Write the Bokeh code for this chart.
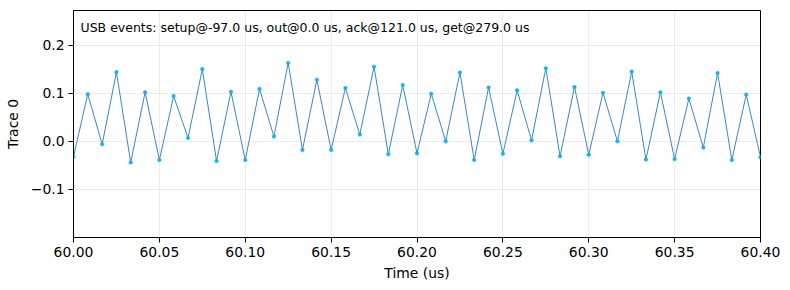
from bokeh.plotting import figure
from bokeh.models import Range1d, FixedTicker, CustomJSTickFormatter, Label, ColumnDataSource
from bokeh.embed import file_html
from bokeh.resources import INLINE

# ---- data ----
time_us = [60.0, 60.0083, 60.0167, 60.025, 60.0333, 60.0417, 60.05, 60.0583,
           60.0667, 60.075, 60.0833, 60.0917, 60.1, 60.1083, 60.1167, 60.125,
           60.1333, 60.1417, 60.15, 60.1583, 60.1667, 60.175, 60.1833, 60.1917,
           60.2, 60.2083, 60.2167, 60.225, 60.2333, 60.2417, 60.25, 60.2583,
           60.2667, 60.275, 60.2833, 60.2917, 60.3, 60.3083, 60.3167, 60.325,
           60.3333, 60.3417, 60.35, 60.3583, 60.3667, 60.375, 60.3833, 60.3917,
           60.4]
trace0 = [-0.032, 0.098, -0.006, 0.144, -0.044, 0.102, -0.039, 0.094,
          0.007, 0.150, -0.041, 0.103, -0.039, 0.109, 0.010, 0.163,
          -0.018, 0.128, -0.018, 0.111, 0.014, 0.155, -0.027, 0.117,
          -0.025, 0.099, 0.000, 0.143, -0.039, 0.112, -0.026, 0.106,
          0.002, 0.152, -0.031, 0.113, -0.028, 0.101, 0.000, 0.145,
          -0.038, 0.102, -0.037, 0.089, -0.013, 0.142, -0.039, 0.097,
          -0.033]
x_ticks = [60.00, 60.05, 60.10, 60.15, 60.20, 60.25, 60.30, 60.35, 60.40]
y_ticks = [-0.1, 0.0, 0.1, 0.2]
x_limits = (60.0, 60.4)
y_limits = (-0.2, 0.272)
event_names = ["setup", "out", "ack", "get"]
event_times_us = [-97.0, 0.0, 121.0, 279.0]
x_label = "Time (us)"
y_label = "Trace 0"

FONT = "DejaVu Sans"

p = figure(width=790, height=290, output_backend="svg", toolbar_location=None,
           x_range=Range1d(*x_limits), y_range=Range1d(*y_limits),
           min_border_left=73, min_border_right=30, min_border_top=10,
           min_border_bottom=53)

src = ColumnDataSource(dict(t=time_us, v=trace0))
p.line("t", "v", source=src, line_color="#2279bf", line_width=0.9)
p.scatter("t", "v", source=src, size=3.6, fill_color="#14b0f0", line_color="#14b0f0",
          line_width=0.5)

p.outline_line_color = "black"
p.outline_line_width = 1
p.outline_line_alpha = 1

p.xaxis.ticker = FixedTicker(ticks=x_ticks)
p.yaxis.ticker = FixedTicker(ticks=y_ticks)
p.xaxis.formatter = CustomJSTickFormatter(code="return (tick < -1e-9 ? '\u2212' : '') + Math.abs(tick).toFixed(2);")
p.yaxis.formatter = CustomJSTickFormatter(code="return (tick < -1e-9 ? '\u2212' : '') + Math.abs(tick).toFixed(1);")

for ax in (p.xaxis, p.yaxis):
    ax.major_tick_in = 0
    ax.major_tick_out = 5
    ax.minor_tick_line_color = None
    ax.major_label_text_font = FONT
    ax.major_label_text_font_size = "13.9px"
    ax.major_label_text_color = "black"
    ax.axis_label_text_font = FONT
    ax.axis_label_text_font_size = "13.9px"
    ax.axis_label_text_font_style = "normal"
    ax.axis_label_text_color = "black"
    ax.axis_line_color = "black"
    ax.major_tick_line_color = "black"
    ax.major_label_standoff = 4

p.xaxis.axis_label = x_label
p.yaxis.axis_label = y_label
p.xaxis.axis_label_standoff = 5
p.yaxis.axis_label_standoff = 7

p.xgrid.ticker = FixedTicker(ticks=x_ticks)
p.ygrid.ticker = FixedTicker(ticks=y_ticks)
for g in (p.xgrid, p.ygrid):
    g.grid_line_color = "#b0b0b0"
    g.grid_line_alpha = 0.3
    g.grid_line_width = 0.8

ann_text = "USB events: " + ", ".join(f"{n}@{t:.1f} us" for n, t in zip(event_names, event_times_us))
p.add_layout(Label(x=x_limits[0], y=y_limits[1], x_offset=7, y_offset=-9,
                   text=ann_text, text_font=FONT, text_font_size="12.5px",
                   text_baseline="top", text_align="left", text_color="black"))

open("out.html", "w").write(file_html(p, INLINE))
